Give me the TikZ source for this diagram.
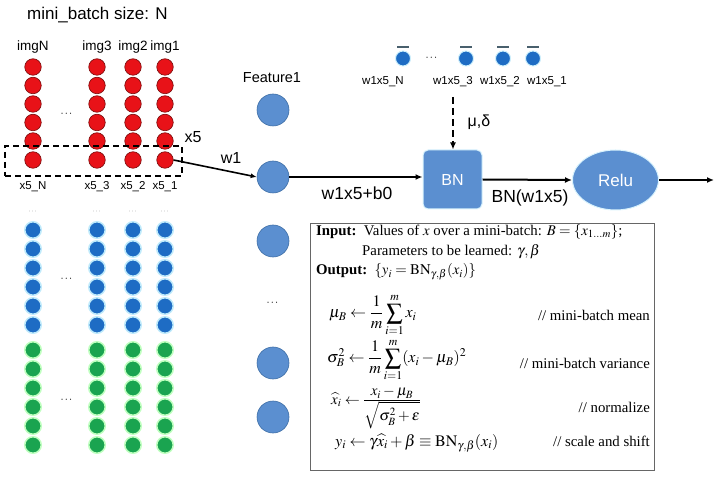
\documentclass[tikz,border=0pt]{standalone}
\usepackage{amsmath}
\usepackage{mathptmx}
\usepackage{fontspec}
\setmainfont{Liberation Sans}
\newfontfamily\tms{Liberation Serif}
\usetikzlibrary{arrows.meta,shapes.geometric}
\definecolor{dred}{HTML}{E81218}
\definecolor{dredd}{HTML}{7A0A0A}
\definecolor{dblue}{HTML}{1E6CC4}
\definecolor{dgreen}{HTML}{1AA450}
\definecolor{fblue}{HTML}{5B8FD0}
\definecolor{fblued}{HTML}{3F6FA6}
\tikzset{
  dot/.style={circle, inner sep=0pt, minimum size=16.5pt},
  reddot/.style={dot, fill=dred, draw=dredd, line width=0.6pt},
  bluedot/.style={dot, fill=dblue, draw=cyan!25, line width=1.5pt},
  greendot/.style={dot, fill=dgreen, draw=green!25, line width=1.5pt},
  topdot/.style={circle, inner sep=0pt, minimum size=15pt, fill=dblue, draw=cyan!20, line width=1pt},
  featdot/.style={circle, inner sep=0pt, minimum size=32pt, fill=fblue, draw=fblued, line width=0.6pt},
  lbl/.style={inner sep=0pt, font=\fontsize{13.5}{16}\selectfont},
  slbl/.style={inner sep=0pt, font=\fontsize{11.5}{14}\selectfont},
  big/.style={inner sep=0pt, font=\fontsize{17.5}{20}\selectfont},
  conn/.style={line width=2pt, -{Latex[length=7pt,width=6pt]}},
  boxt/.style={inner sep=0pt, font=\tms\fontsize{14.8}{16}\selectfont},
  eqt/.style={inner sep=0pt, anchor=west, font=\tms\fontsize{16}{18}\selectfont},
}
\begin{document}
\begin{tikzpicture}[x=1pt, y=-1pt]
\useasboundingbox (0,0) rectangle (720,478);
% title
\node[inner sep=0pt, anchor=west, font=\fontsize{17}{20}\selectfont] (title) at (27,15) {mini\_batch size: N};
% columns
\foreach \c/\x in {N/33, 3/97, 2/133, 1/165} {
  \node[lbl] (img\c) at (\x,47) {img\c};
  \foreach \r/\y in {1/67, 2/85.5, 3/104, 4/122.5, 5/141} {
    \node[reddot] (r\c\r) at (\x,\y) {};
  }
  \node[reddot] (x\c) at (\x,160) {};
  \node[slbl] (xl\c) at (\x,187) {x5\_\c};
  \node[inner sep=0pt, font=\fontsize{8}{9}\selectfont, text=gray] (bd\c) at (\x,212) {$\cdots$};
  \foreach \r/\y in {1/230, 2/249, 3/268, 4/287, 5/306, 6/325} {
    \node[bluedot] (b\c\r) at (\x,\y) {};
  }
  \foreach \r/\y in {1/350, 2/369, 3/388, 4/407, 5/426, 6/445} {
    \node[greendot] (g\c\r) at (\x,\y) {};
  }
}
\node[inner sep=0pt, font=\fontsize{11}{12}\selectfont] (rdots) at (67,114) {$\cdots$};
\node[inner sep=0pt, font=\fontsize{11}{12}\selectfont] (bdots) at (67,279) {$\cdots$};
\node[inner sep=0pt, font=\fontsize{11}{12}\selectfont] (gdots) at (67,400) {$\cdots$};
% selection box
\node[draw, line width=1.5pt, dash pattern=on 6pt off 4pt, minimum width=177pt, minimum height=30pt, inner sep=0pt] (sel) at (93.5,161) {};
\node[inner sep=0pt, font=\fontsize{16}{18}\selectfont] (x5) at (193,137) {x5};
% features
\node[inner sep=0pt, font=\fontsize{14.5}{17}\selectfont] (ft) at (272,78) {Feature1};
\node[featdot] (f1) at (273,110) {};
\node[featdot] (f2) at (273,177) {};
\node[featdot] (f3) at (273,241) {};
\node[inner sep=0pt, font=\fontsize{11}{12}\selectfont] (fdots) at (273,303) {$\cdots$};
\node[featdot] (f4) at (273,363) {};
\node[featdot] (f5) at (273,417) {};
\draw[line width=1.6pt, -{Latex[length=6pt,width=5pt]}] (x1.east) -- (f2.west);
\node[inner sep=0pt, font=\fontsize{16}{18}\selectfont] (w1) at (231,158) {w1};
% BN and Relu
\node[rectangle, rounded corners=5pt, fill=fblue, draw=cyan!15, line width=1pt, minimum width=59pt, minimum height=59pt, text=white, font=\fontsize{16}{18}\selectfont] (bn) at (452.5,179.5) {BN};
\node[ellipse, fill=fblue, draw=cyan!15, line width=1pt, minimum width=86pt, minimum height=60pt, inner sep=0pt, text=white, font=\fontsize{17}{20}\selectfont] (relu) at (615.5,180) {Relu};
\coordinate (out) at (714,180);
\draw[conn] (f2.east) -- (bn.west |- f2.east);
\node[big] (l1) at (357,193) {w1x5+b0};
\draw[conn] (bn.east) -- (relu.west);
\node[big] (l2) at (530,198) {BN(w1x5)};
\draw[conn] (relu.east) -- (out);
% top dots
\foreach \c/\x/\lx in {N/403/383, 3/466/453, 2/503/500, 1/533/547} {
  \node[topdot] (t\c) at (\x,58.5) {};
  \draw[line width=1.8pt, draw=black!65!cyan] (\x-6,47) -- (\x+6,47);
  \node[slbl] (tl\c) at (\lx,82) {w1x5\_\c};
}
\node[inner sep=0pt, font=\fontsize{11}{12}\selectfont] (tdots) at (432,58) {$\cdots$};
\coordinate (mu) at (453,97);
\draw[line width=2pt, dash pattern=on 7pt off 4pt, -{Latex[length=7pt,width=6pt]}] (mu) -- (bn.north -| mu);
\node[inner sep=0pt, font=\fontsize{16}{18}\selectfont] (mul) at (479,122) {μ,δ};
% algorithm box
\node[draw=black!60, line width=0.8pt, minimum width=344pt, minimum height=247pt, inner sep=0pt] (algo) at (482,346.5) {};
\node[boxt, anchor=west] (in1) at (316,232) {\textbf{Input:}\ \ Values of $x$ over a mini-batch: $B=\{x_{1\ldots m}\}$;};
\node[boxt, anchor=west] (in2) at (362,252) {Parameters to be learned: $\gamma,\beta$};
\node[boxt, anchor=west] (out1) at (316,272) {\textbf{Output:}\ \ $\{y_i=\mathrm{BN}_{\gamma,\beta}(x_i)\}$};
\node[eqt] (e1) at (329,315) {$\displaystyle \mu_{B} \leftarrow \frac{1}{m}\sum_{i=1}^{m} x_i$};
\node[boxt, anchor=east] (c1) at (650,315) {// mini-batch mean};
\node[eqt] (e2) at (327,360) {$\displaystyle \sigma_{B}^2 \leftarrow \frac{1}{m}\sum_{i=1}^{m} (x_i-\mu_{B})^2$};
\node[boxt, anchor=east] (c2) at (650,363) {// mini-batch variance};
\node[eqt, font=\tms\fontsize{15}{17}\selectfont] (e3) at (331,408) {$\widehat{x}_i \leftarrow \tfrac{\displaystyle x_i-\mu_{B}}{\displaystyle \sqrt{\sigma_{B}^2+\epsilon}}$};
\node[boxt, anchor=east] (c3) at (650,407) {// normalize};
\node[eqt] (e4) at (335,443) {$y_i \leftarrow \gamma\widehat{x}_i+\beta \equiv \mathrm{BN}_{\gamma,\beta}(x_i)$};
\node[boxt, anchor=east] (c4) at (650,441) {// scale and shift};
\end{tikzpicture}
\end{document}
